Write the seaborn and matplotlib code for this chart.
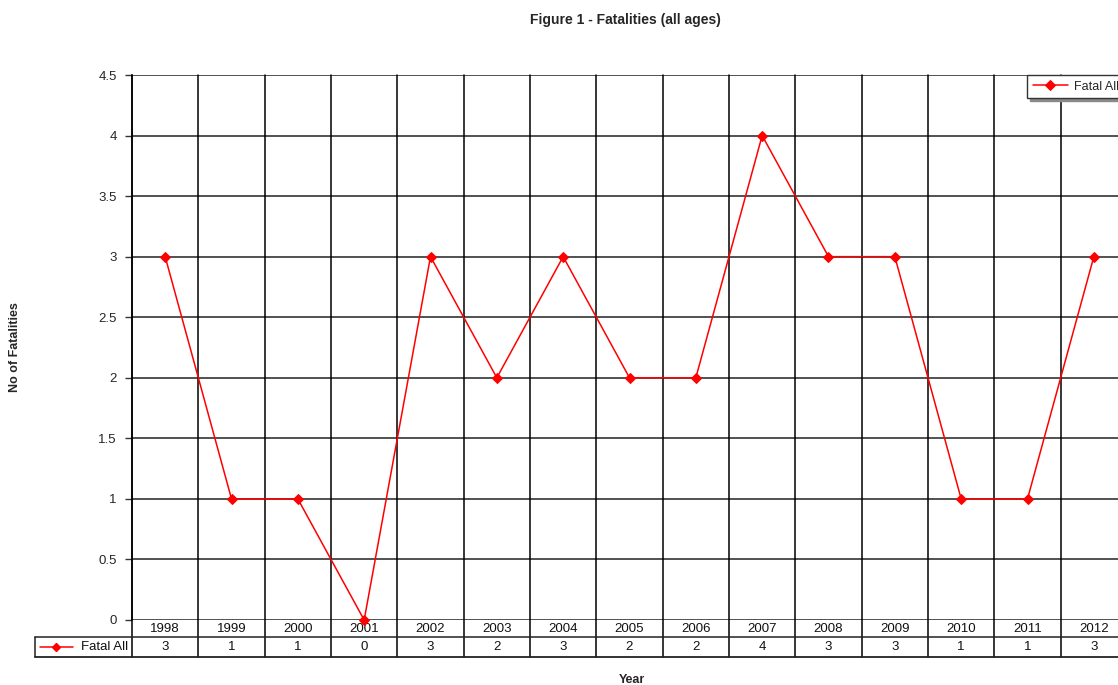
import matplotlib
matplotlib.use("Agg")
import matplotlib.pyplot as plt
import seaborn as sns
import pandas as pd
import numpy as np

years = ["1998", "1999", "2000", "2001", "2002", "2003", "2004", "2005",
         "2006", "2007", "2008", "2009", "2010", "2011", "2012"]
fatal_all = [3, 1, 1, 0, 3, 2, 3, 2, 2, 4, 3, 3, 1, 1, 3]
y_ticks = [0, 0.5, 1, 1.5, 2, 2.5, 3, 3.5, 4, 4.5]
series_name = "Fatal All"

sns.set_theme(style="white")
plt.rcParams["font.family"] = ["Liberation Sans", "DejaVu Sans"]

df = pd.DataFrame({"idx": np.arange(len(years)), "value": fatal_all})

W, H = 1118, 685
fig = plt.figure(figsize=(W / 100, H / 100), dpi=100)
ax = fig.add_axes([132 / W, 65 / H, 995 / W, 545 / H])

sns.lineplot(data=df, x="idx", y="value", ax=ax, color="#FF0000", lw=1.1,
             marker="D", markersize=5.2, markeredgecolor="#FF0000",
             label=series_name, zorder=5, clip_on=False)

ax.set_xlim(-0.5, len(years) - 0.5)
ax.set_ylim(0, 4.5)
ax.set_yticks(y_ticks)
ax.set_yticklabels([f"{v:g}" for v in y_ticks], fontsize=9.5)
ax.tick_params(axis="y", length=5, width=1, color="#333333", pad=6, left=True)
ax.set_xticks([])
ax.set_xlabel("")
ax.set_ylabel("")

# horizontal grid at every tick
for v in y_ticks:
    ax.axhline(v, color="#222222", lw=1.1, zorder=1)

for s in ["top", "right", "bottom"]:
    ax.spines[s].set_visible(False)
ax.spines["left"].set_color("#000000")
ax.spines["left"].set_linewidth(1.1)

trans = ax.get_xaxis_transform()
n = len(years)
row1 = -0.0312
row2 = -0.0679
# category boundaries extending through the data table
for b in np.arange(-0.5, n, 1.0):
    ax.plot([b, b], [1.0, row2], transform=trans, color="#000000", lw=1.1,
            clip_on=False, zorder=2)

left_edge = -0.5 - 97 / 66.33
ax.plot([left_edge, n - 0.5], [row1, row1], transform=trans, color="#222222",
        lw=1.1, clip_on=False)
ax.plot([left_edge, n - 0.5], [row2, row2], transform=trans, color="#222222",
        lw=1.3, clip_on=False)
ax.plot([left_edge, left_edge], [row1, row2], transform=trans, color="#222222",
        lw=1.1, clip_on=False)

for i, (yr, v) in enumerate(zip(years, fatal_all)):
    ax.text(i, -0.0165, yr, transform=trans, ha="center", va="center",
            fontsize=9.5, color="#111111")
    ax.text(i, -0.0495, f"{v}", transform=trans, ha="center", va="center",
            fontsize=9.5, color="#111111")

# legend key inside the table's header cell
kx0 = -0.5 - 92 / 66.33
kx1 = -0.5 - 59 / 66.33
ax.plot([kx0, kx1], [-0.0495, -0.0495], transform=trans, color="#FF0000",
        lw=1.1, clip_on=False)
ax.plot([(kx0 + kx1) / 2], [-0.0495], transform=trans, color="#FF0000",
        marker="D", markersize=4.5, clip_on=False)
ax.text(-0.5 - 4 / 66.33, -0.0495, series_name, transform=trans, ha="right",
        va="center", fontsize=9.5, color="#111111")

leg = ax.legend(loc="upper left", bbox_to_anchor=(1027 / W, 610 / H),
                bbox_transform=fig.transFigure, frameon=True, fancybox=False,
                shadow={"color": "#8a8a8a", "alpha": 1.0}, fontsize=9,
                borderpad=0.45, borderaxespad=0, handlelength=2.8,
                handletextpad=0.5, framealpha=1)
leg.get_frame().set_edgecolor("#333333")
leg.get_frame().set_linewidth(1.0)
leg.set_zorder(10)

fig.text(625 / W, 1 - 20 / H, "Figure 1 - Fatalities (all ages)",
         ha="center", va="center", fontsize=10, fontweight="bold")
fig.text(15 / W, 1 - 347 / H, "No of Fatalities", rotation=90,
         ha="center", va="center", fontsize=9, fontweight="bold")
fig.text(632 / W, 1 - 680 / H, "Year", ha="center", va="center",
         fontsize=9, fontweight="bold")

fig.savefig("out.png", dpi=100)
